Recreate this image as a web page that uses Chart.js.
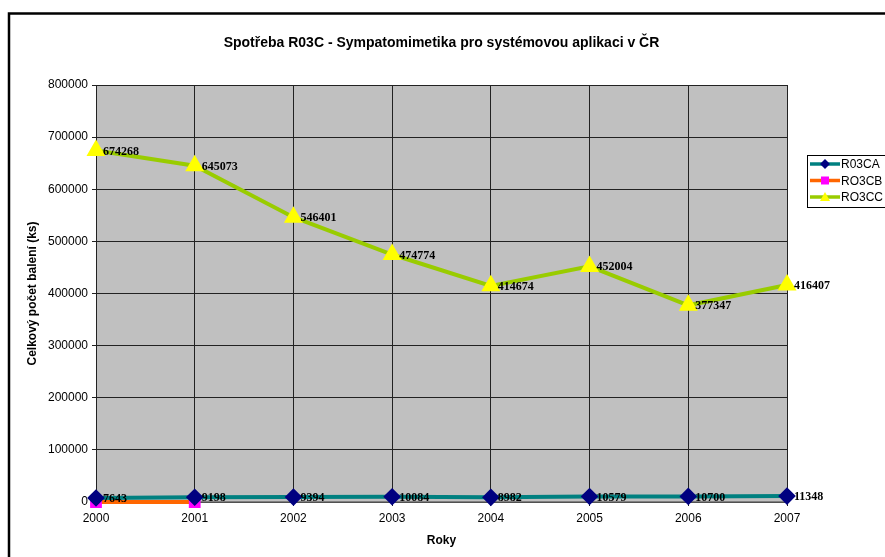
<!DOCTYPE html>
<html>
<head>
<meta charset="utf-8">
<script src="https://cdn.jsdelivr.net/npm/chart.js@4"></script>
<style>
  body { margin: 0; background: #fff; }
  #wrap { width: 885px; height: 557px; }
</style>
</head>
<body>
<div id="wrap"><canvas id="chart"></canvas></div>
<script>
const years = ["2000", "2001", "2002", "2003", "2004", "2005", "2006", "2007"];
const r03ca = [7643, 9198, 9394, 10084, 8982, 10579, 10700, 11348];
const ro3cb = [0, 0, null, null, null, null, null, null];
const ro3cc = [674268, 645073, 546401, 474774, 414674, 452004, 377347, 416407];
const yTicks = [0, 100000, 200000, 300000, 400000, 500000, 600000, 700000, 800000];

const chartTitle = "Spotřeba R03C - Sympatomimetika pro systémovou aplikaci v ČR";
const yTitle = "Celkový počet balení (ks)";
const xTitle = "Roky";

// frame, titles, legend and value labels
const decor = {
  id: "decor",
  beforeDraw(chart) {
    const ctx = chart.ctx;
    ctx.save();
    ctx.fillStyle = "#fff";
    ctx.fillRect(0, 0, chart.width, chart.height);
    const a = chart.chartArea;
    ctx.fillStyle = "#c0c0c0";
    ctx.fillRect(a.left, a.top, a.right - a.left, a.bottom - a.top);
    ctx.strokeStyle = "#000";
    ctx.lineWidth = 2.5;
    ctx.strokeRect(9, 13.5, 900, 600);
    ctx.restore();
  },
  afterDatasetsDraw(chart) {
    const ctx = chart.ctx;
    ctx.save();
    ctx.fillStyle = "#000";
    ctx.font = "bold 12px 'Liberation Serif', 'Times New Roman', serif";
    ctx.textAlign = "left";
    ctx.textBaseline = "middle";
    [0, 2].forEach((di) => {
      const meta = chart.getDatasetMeta(di);
      const vals = chart.data.datasets[di].data;
      meta.data.forEach((pt, i) => {
        if (vals[i] == null) return;
        ctx.fillText(String(vals[i]), pt.x + 7, pt.y + 1);
      });
    });
    ctx.restore();
  },
  afterDraw(chart) {
    const ctx = chart.ctx;
    const a = chart.chartArea;
    ctx.save();
    ctx.fillStyle = "#000";
    ctx.textAlign = "center";
    ctx.textBaseline = "middle";
    ctx.font = "bold 14px Arial, 'Liberation Sans', sans-serif";
    ctx.fillText(chartTitle, (a.left + a.right) / 2, 43);
    ctx.font = "bold 12px Arial, 'Liberation Sans', sans-serif";
    ctx.fillText(xTitle, (a.left + a.right) / 2, 541);
    ctx.translate(33, (a.top + a.bottom) / 2);
    ctx.rotate(-Math.PI / 2);
    ctx.fillText(yTitle, 0, 0);
    ctx.restore();

    // legend box
    ctx.save();
    ctx.fillStyle = "#fff";
    ctx.fillRect(807, 155, 100, 52);
    ctx.strokeStyle = "#000";
    ctx.lineWidth = 1;
    ctx.strokeRect(807.5, 155.5, 100, 52);
    ctx.font = "12px Arial, 'Liberation Sans', sans-serif";
    ctx.textAlign = "left";
    ctx.textBaseline = "middle";
    chart.data.datasets.forEach((ds, i) => {
      const y = 164 + i * 16.5;
      ctx.strokeStyle = ds.borderColor;
      ctx.lineWidth = 3.5;
      ctx.beginPath();
      ctx.moveTo(810, y);
      ctx.lineTo(840, y);
      ctx.stroke();
      ctx.fillStyle = ds.pointBackgroundColor;
      ctx.beginPath();
      if (ds.pointStyle === "rectRot") {
        ctx.moveTo(825, y - 5); ctx.lineTo(830, y); ctx.lineTo(825, y + 5); ctx.lineTo(820, y);
      } else if (ds.pointStyle === "rect") {
        ctx.rect(821, y - 4, 8, 8);
      } else {
        ctx.moveTo(825, y - 5); ctx.lineTo(830, y + 4); ctx.lineTo(820, y + 4);
      }
      ctx.closePath();
      ctx.fill();
      ctx.fillStyle = "#000";
      ctx.fillText(ds.label, 841, y + 1);
    });
    ctx.restore();
  }
};

new Chart(document.getElementById("chart"), {
  type: "line",
  data: {
    labels: years,
    datasets: [
      {
        label: "R03CA",
        data: r03ca,
        borderColor: "#008080",
        borderWidth: 4,
        pointStyle: "rectRot",
        pointRadius: 6,
        pointBackgroundColor: "#000080",
        pointBorderColor: "#000080",
        tension: 0,
        clip: false,
      },
      {
        label: "RO3CB",
        data: ro3cb,
        borderColor: "#ff6600",
        borderWidth: 4,
        pointStyle: "rect",
        pointRadius: 5.5,
        pointBackgroundColor: "#ff00ff",
        pointBorderColor: "#ff00ff",
        tension: 0,
        clip: false,
      },
      {
        label: "RO3CC",
        data: ro3cc,
        borderColor: "#99cc00",
        borderWidth: 4,
        pointStyle: "triangle",
        pointRadius: 7,
        pointBackgroundColor: "#ffff00",
        pointBorderColor: "#ffff00",
        tension: 0,
        clip: false,
      },
    ],
  },
  options: {
    responsive: true,
    maintainAspectRatio: false,
    animation: false,
    layout: { padding: { left: 0, top: 85, right: 98, bottom: 0 } },
    plugins: {
      legend: { display: false },
      title: { display: false },
      tooltip: { enabled: false },
    },
    scales: {
      x: {
        offset: false,
        afterFit: (s) => { s.height = 55; },
        grid: { color: "#222", lineWidth: 1, tickLength: 4, offset: false },
        border: { color: "#808080", width: 1.5 },
        ticks: {
          color: "#000",
          font: { family: "Arial, 'Liberation Sans', sans-serif", size: 12 },
          padding: 5,
          maxRotation: 0,
        },
      },
      y: {
        min: 0,
        max: 800000,
        afterFit: (s) => { s.width = 96; },
        afterBuildTicks: (s) => { s.ticks = yTicks.map((v) => ({ value: v })); },
        grid: { color: "#222", lineWidth: 1, tickLength: 4 },
        border: { color: "#222", width: 1 },
        ticks: {
          color: "#000",
          font: { family: "Arial, 'Liberation Sans', sans-serif", size: 12 },
          padding: 4,
          callback: (v) => String(v),
        },
      },
    },
  },
  plugins: [decor],
});
</script>
</body>
</html>
